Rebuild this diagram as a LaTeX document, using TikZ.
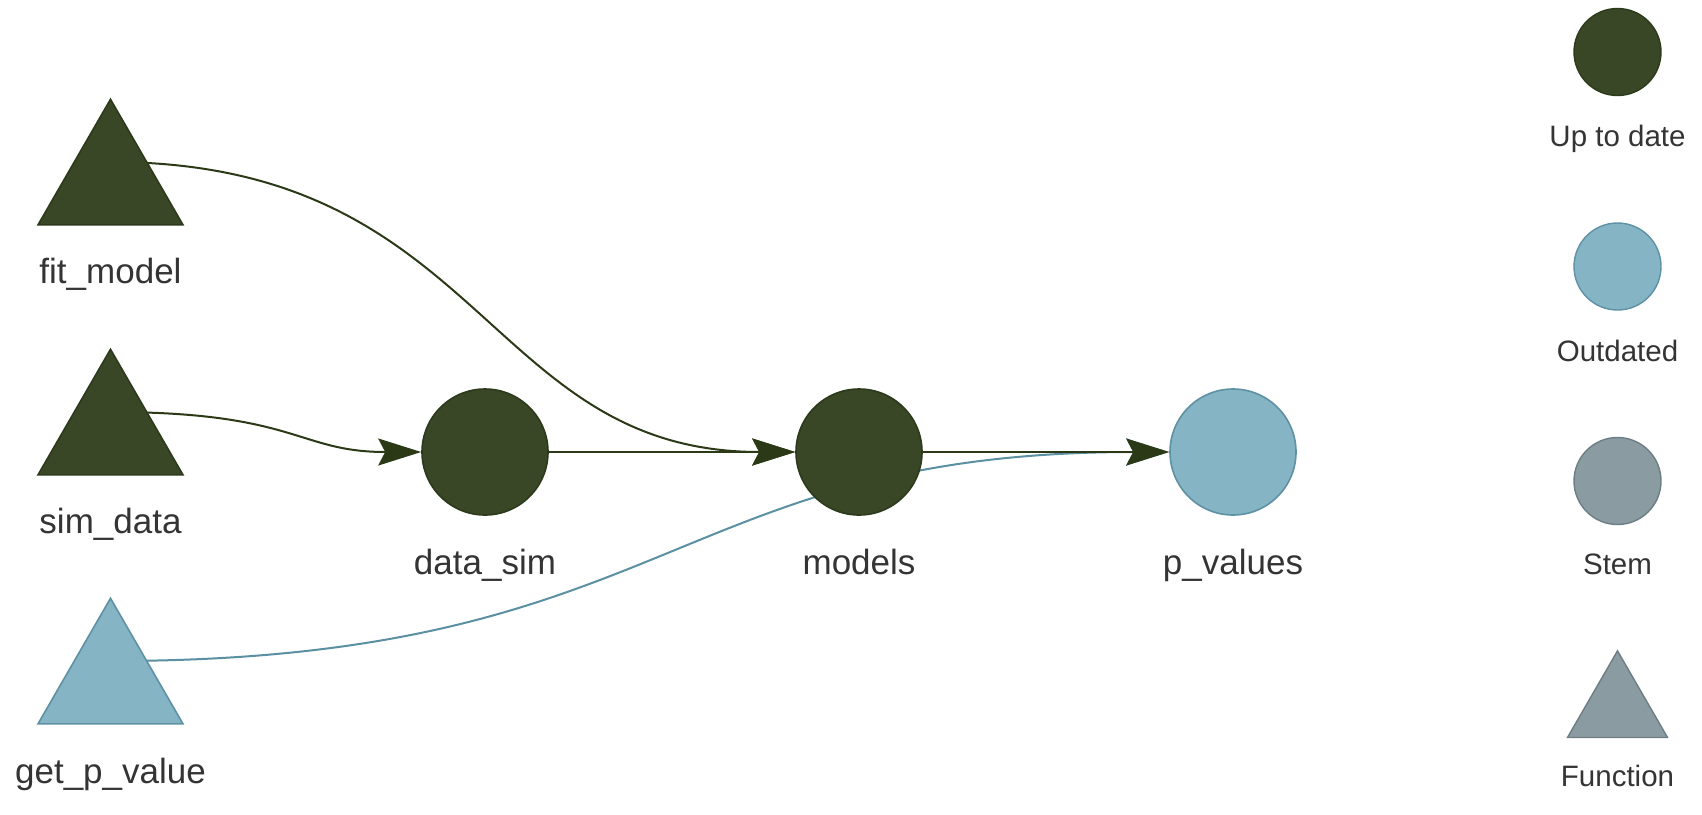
\documentclass[tikz,border=0pt]{standalone}
\usepackage{fontspec}
\setmainfont{Liberation Sans}
\usetikzlibrary{shapes.geometric,arrows.meta,backgrounds}
\definecolor{upfill}{HTML}{3A4727}
\definecolor{updraw}{HTML}{2C3A1B}
\definecolor{uparrow}{HTML}{2B3917}
\definecolor{outfill}{HTML}{85B4C4}
\definecolor{outdraw}{HTML}{5E91A4}
\definecolor{outedge}{HTML}{5B8FA2}
\definecolor{stemfill}{HTML}{8A9BA2}
\definecolor{stemdraw}{HTML}{6C7D84}
\definecolor{txt}{HTML}{343434}
\tikzset{
  x=1pt, y=-1pt,
  fn/.style={regular polygon, regular polygon sides=3, minimum size=167.4pt, inner sep=0pt, line width=1.6pt},
  tg/.style={circle, minimum size=126pt, inner sep=0pt, line width=1.6pt},
  upto/.style={fill=upfill, draw=updraw},
  outd/.style={fill=outfill, draw=outdraw},
  stemst/.style={fill=stemfill, draw=stemdraw},
  lbl/.style={anchor=base, text=txt, font=\fontsize{35}{42}\selectfont, inner sep=0pt},
  leglbl/.style={anchor=base, text=txt, font=\fontsize{29.5}{36}\selectfont, inner sep=0pt},
  legc/.style={circle, minimum size=87pt, inner sep=0pt, line width=1.4pt},
  legt/.style={regular polygon, regular polygon sides=3, minimum size=115.5pt, inner sep=0pt, line width=1.4pt},
  edg/.style={line width=2pt, -{Stealth[length=43pt, width=27pt, inset=7pt]}},
}
\begin{document}
\begin{tikzpicture}
\useasboundingbox (0,0) rectangle (1702,814);
% nodes
\node[fn, upto] (fit) at (110.5,183) {};
\node[fn, upto] (sim) at (110.5,433) {};
\node[fn, outd] (getp) at (110.5,682) {};
\node[tg, upto] (dsim) at (485,452) {};
\node[tg, upto] (models) at (859,452) {};
\node[tg, outd] (pval) at (1233,452) {};
% labels
\node[lbl] (lfit) at (110.5,283) {fit\_model};
\node[lbl] (lsim) at (110.5,533) {sim\_data};
\node[lbl] (lgetp) at (110.5,783) {get\_p\_value};
\node[lbl] (ldsim) at (485,574) {data\_sim};
\node[lbl] (lmodels) at (859,574) {models};
\node[lbl] (lpval) at (1233,574) {p\_values};
% legend
\node[legc, upto] (lg1) at (1617.5,52) {};
\node[leglbl] (lg1t) at (1617.5,146) {Up to date};
\node[legc, outd] (lg2) at (1617.5,266.5) {};
\node[leglbl] (lg2t) at (1617.5,361) {Outdated};
\node[legc, stemst] (lg3) at (1617.5,481) {};
\node[leglbl] (lg3t) at (1617.5,574) {Stem};
\node[legt, stemst] (lg4) at (1617.5,708.6) {};
\node[leglbl] (lg4t) at (1617.5,786) {Function};
% edges
\begin{scope}[on background layer]
\draw[edg, draw=outedge] ([yshift=21pt]getp.center) .. controls (671.5,661) and (671.5,452) .. (pval);
\draw[edg, draw=uparrow] ([yshift=21pt]fit.center) .. controls (484.5,162) and (484.5,452) .. (models);
\draw[edg, draw=uparrow] ([yshift=21pt]sim.center) .. controls (297.5,412) and (297.5,452) .. (dsim);
\draw[edg, draw=uparrow] (dsim.center) -- (models);
\draw[edg, draw=uparrow] (models.center) -- (pval);
\end{scope}
\end{tikzpicture}
\end{document}
